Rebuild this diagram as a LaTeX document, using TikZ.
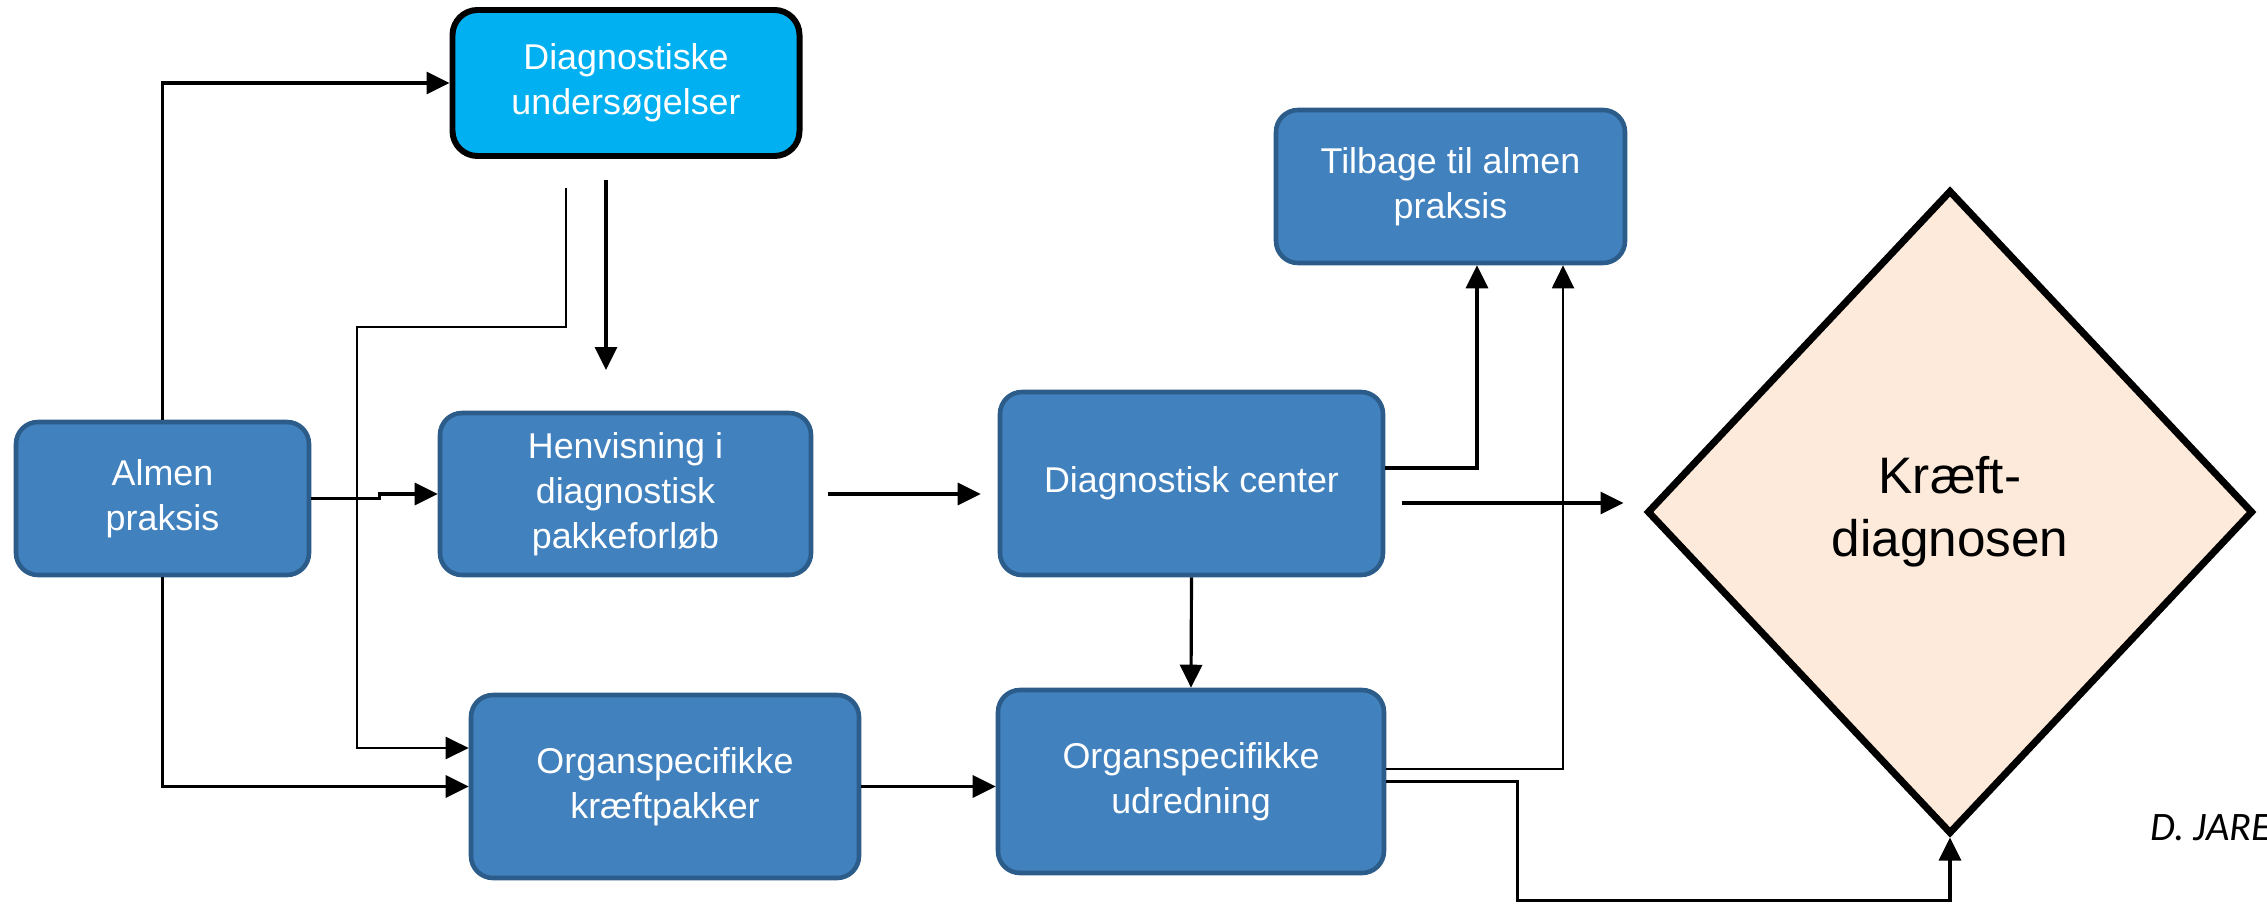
\documentclass[tikz,border=0pt]{standalone}
\usepackage{fontspec}
\setmainfont{Liberation Sans}
\newfontfamily\signfont{Carlito}
\definecolor{boxblue}{RGB}{65,129,190}
\definecolor{boxedge}{RGB}{44,92,138}
\definecolor{examblue}{RGB}{0,176,240}
\definecolor{peach}{RGB}{253,234,218}
\usetikzlibrary{arrows.meta,positioning,shapes.geometric,calc}

\begin{document}
\begin{tikzpicture}[every node/.style={font=\fontsize{10.2}{12.8}\selectfont},
  bx/.style={rounded corners=0.22cm, draw=boxedge, fill=boxblue, line width=1.3pt, text=white, align=center},
  arr/.style={-{Triangle[length=2.3mm,width=2.2mm]}, line width=0.9pt}]
\useasboundingbox (0,0) rectangle (22.67,9.03);
% Boxes
\node[bx, draw=black, fill=examblue, line width=1.7pt, rounded corners=0.25cm, minimum width=3.47cm, minimum height=1.46cm] (diagu) at (6.26,8.20) {Diagnostiske\\undersøgelser};
\node[bx, minimum width=2.93cm, minimum height=1.53cm] (almen) at (1.625,4.045) {Almen\\praksis};
\node[bx, minimum width=3.71cm, minimum height=1.62cm] (henv) at (6.255,4.09) {Henvisning i\\diagnostisk\\pakkeforløb};
\node[bx, minimum width=3.88cm, minimum height=1.83cm] (kraeft) at (6.65,1.165) {Organspecifikke\\kræftpakker};
\node[bx, minimum width=3.83cm, minimum height=1.83cm] (dc) at (11.915,4.195) {Diagnostisk center};
\node[bx, minimum width=3.86cm, minimum height=1.83cm] (udr) at (11.91,1.215) {Organspecifikke\\udredning};
\node[bx, minimum width=3.49cm, minimum height=1.53cm] (tilbage) at (14.505,7.165) {Tilbage til almen\\praksis};
\node[diamond, draw, line width=2pt, fill=peach, inner sep=0pt, minimum width=6.06cm, minimum height=6.44cm, align=center, font=\fontsize{14.6}{18}\selectfont] (dk) at (19.50,3.91) {Kræft-\\diagnosen};
\node[anchor=base west, inner sep=0pt, font=\signfont\itshape\fontsize{11.5}{13}\selectfont] (sign) at (21.50,0.63) {D. JARE};
% Free ends
\coordinate (ustart) at (5.66,7.15);
\coordinate (ubend) at (3.57,5.76);
\coordinate (dstart) at (6.06,7.23);
\coordinate (dend) at (6.06,5.33);
\coordinate (dcout) at ([yshift=-0.195cm]dc.east);
% Connectors
\draw[arr] (almen.north) |- (diagu.west);
\draw[arr, line width=0.6pt] (ustart) |- (ubend) |- ([yshift=0.385cm]kraeft.west);
\draw[arr] (dstart) -- (dend);
\draw[arr] (almen.east) -- ++(0.68,0) |- (henv.west);
\draw[arr] (almen.south) |- (kraeft.west);
\draw[arr, shorten <=0.15cm, shorten >=0.17cm] (henv.east) -- (henv.east -| dc.west);
\draw[arr] ([yshift=0.155cm]dc.east) -| ([xshift=0.265cm]tilbage.south);
\draw[arr, shorten <=0.17cm, shorten >=0.2cm] (dcout) -- (dcout -| dk.west);
\draw[arr] (dc.south) -- (udr.north);
\draw[arr] (kraeft.east) -- (kraeft.east -| udr.west);
\draw[arr, line width=0.6pt] ([yshift=0.125cm]udr.east) -| ([xshift=1.125cm]tilbage.south);
\draw[arr] (udr.east) -- ++(1.31,0) |- ([yshift=-0.63cm]dk.south) -- (dk.south);
\end{tikzpicture}
\end{document}
